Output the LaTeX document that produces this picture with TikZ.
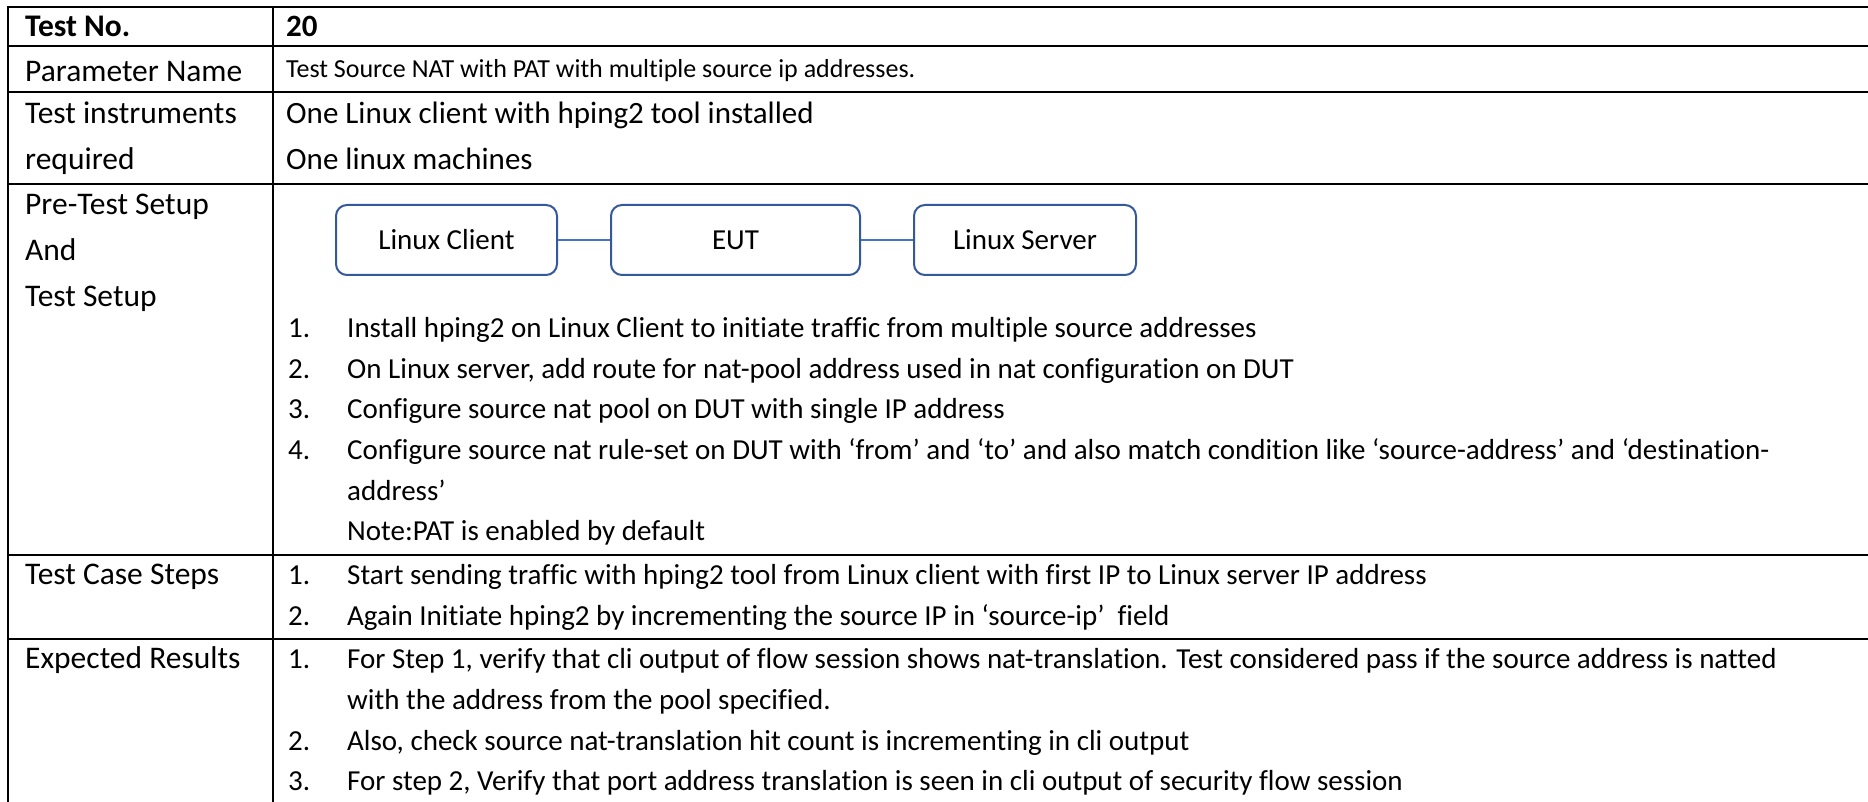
\documentclass[tikz,border=0pt]{standalone}
\usepackage{fontspec}
\setmainfont[Ligatures={NoCommon}]{Carlito}
\begin{document}
\begin{tikzpicture}[x=1pt,y=-1pt,
  grid/.style={line width=2pt,black},
  ltxt/.style={anchor=base west,inner sep=0pt,font=\fontsize{31.5}{36}\selectfont},
  lbtxt/.style={ltxt,font=\fontsize{31.5}{36}\selectfont\bfseries},
  rtxt/.style={anchor=base west,inner sep=0pt,font=\fontsize{31}{36}\selectfont},
  rbtxt/.style={rtxt,font=\fontsize{31}{36}\selectfont\bfseries},
  txt/.style={anchor=base west,inner sep=0pt,font=\fontsize{29}{34}\selectfont},
  dev/.style={draw=boxblue,line width=2pt,rounded corners=11pt,minimum height=70pt,inner sep=0pt,font=\fontsize{29}{34}\selectfont},
  link/.style={draw=linkblue,line width=2pt}]
\definecolor{boxblue}{RGB}{52,88,156}
\definecolor{linkblue}{RGB}{68,114,196}
\useasboundingbox (0,0) rectangle (1868,802);
% table rules
\draw[grid] (8,7) -- (1870,7);
\draw[grid] (8,46) -- (1870,46);
\draw[grid] (8,92) -- (1870,92);
\draw[grid] (8,184) -- (1870,184);
\draw[grid] (8,555) -- (1870,555);
\draw[grid] (8,639) -- (1870,639);
\draw[grid] (8,6) -- (8,804);
\draw[grid] (273,6) -- (273,804);
% left column
\node[lbtxt] (l1) at (25,37) {Test No.};
\node[ltxt] (l2) at (25,82) {Parameter Name};
\node[ltxt] (l3a) at (25,124) {Test instruments};
\node[ltxt] (l3b) at (25,170) {required};
\node[ltxt] (l4a) at (25,215) {Pre-Test Setup};
\node[ltxt] (l4b) at (25,261) {And};
\node[ltxt] (l4c) at (25,306) {Test Setup};
\node[ltxt] (l5) at (25,584) {Test Case Steps};
\node[ltxt] (l6) at (25,668) {Expected Results};
% right column, top rows
\node[rbtxt] (r1) at (286,37) {20};
\node[txt,font=\fontsize{26}{30}\selectfont] (r2) at (286,78) {Test Source NAT with PAT with multiple source ip addresses.};
\node[rtxt] (r3a) at (286,124) {One Linux client with hping2 tool installed};
\node[rtxt] (r3b) at (286,170) {One linux machines};
% diagram
\node[dev,minimum width=221pt] (client) at (446.5,240) {Linux Client};
\node[dev,minimum width=249pt] (eut) at (735.5,240) {EUT};
\node[dev,minimum width=222pt] (server) at (1025,240) {Linux Server};
\draw[link] (client.east) -- (eut.west);
\draw[link] (eut.east) -- (server.west);
% pre-test list
\node[txt] (p1n) at (288,337) {1.};
\node[txt] (p1) at (347,337) {Install hping2 on Linux Client to initiate traffic from multiple source addresses};
\node[txt] (p2n) at (288,378) {2.};
\node[txt] (p2) at (347,378) {On Linux server, add route for nat-pool address used in nat configuration on DUT};
\node[txt] (p3n) at (288,418) {3.};
\node[txt] (p3) at (347,418) {Configure source nat pool on DUT with single IP address};
\node[txt] (p4n) at (288,459) {4.};
\node[txt] (p4) at (347,459) {Configure source nat rule-set on DUT with ‘from’ and ‘to’ and also match condition like ‘source-address’ and ‘destination-};
\node[txt] (p4b) at (347,500) {address’};
\node[txt] (p5) at (347,540) {Note:PAT is enabled by default};
% test case steps
\node[txt] (s1n) at (288,584) {1.};
\node[txt] (s1) at (347,584) {Start sending traffic with hping2 tool from Linux client with first IP to Linux server IP address};
\node[txt] (s2n) at (288,625) {2.};
\node[txt] (s2) at (347,625) {Again Initiate hping2 by incrementing the source IP in ‘source-ip’\ \ field};
% expected results
\node[txt] (e1n) at (288,668) {1.};
\node[txt] (e1) at (347,668) {For Step 1, verify that cli output of flow session shows nat-translation. Test considered pass if the source address is natted};
\node[txt] (e1b) at (347,709) {with the address from the pool specified.};
\node[txt] (e2n) at (288,750) {2.};
\node[txt] (e2) at (347,750) {Also, check source nat-translation hit count is incrementing in cli output};
\node[txt] (e3n) at (288,790) {3.};
\node[txt] (e3) at (347,790) {For step 2, Verify that port address translation is seen in cli output of security flow session};
\end{tikzpicture}
\end{document}
